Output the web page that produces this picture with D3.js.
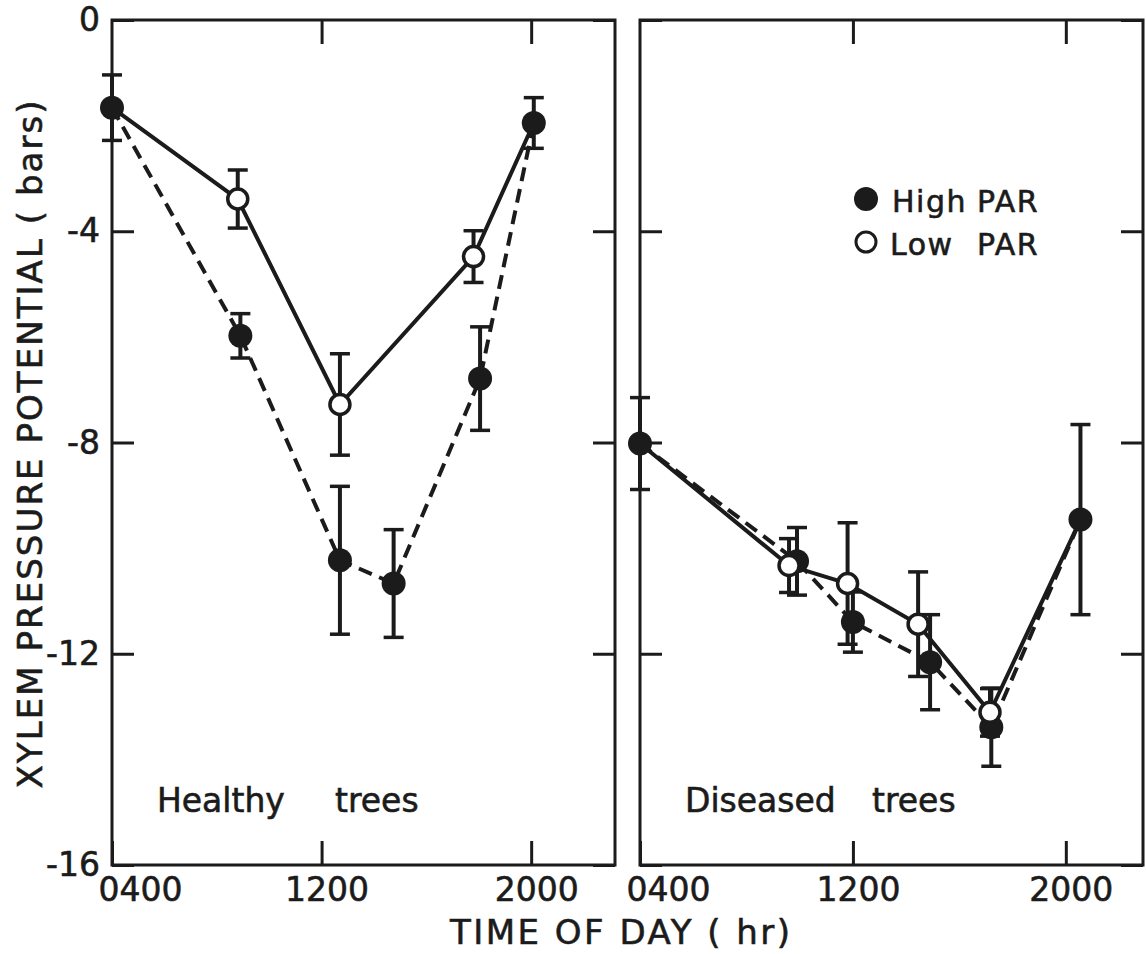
<!DOCTYPE html>
<html>
<head>
<meta charset="utf-8">
<script src="https://cdn.jsdelivr.net/npm/d3@7"></script>
<style>
  body { margin: 0; background: #fff; }
  svg text { font-family: "DejaVu Sans", sans-serif; fill: #1b1b1b; stroke: #1b1b1b; stroke-width: 0.6px; }
</style>
</head>
<body>
<div id="chart"></div>
<script>
// values: xylem pressure potential (bars) by hour of day
var yTicks = [0, -4, -8, -12, -16];
var xTickHours = [4, 12, 20];
var xTickLabels = ["0400", "1200", "2000"];

var healthyHighHour = [4, 8.9, 12.7, 14.75, 18.05, 20.1];
var healthyHighMean = [-1.66, -5.98, -10.23, -10.67, -6.79, -1.95];
var healthyHighSE   = [0.62, 0.42, 1.40, 1.02, 0.98, 0.48];

var healthyLowHour = [4, 8.8, 12.7, 17.8, 20.1];
var healthyLowMean = [-1.66, -3.39, -7.28, -4.48, -1.95];
var healthyLowSE   = [0.62, 0.55, 0.96, 0.49, 0.48];

var diseasedHighHour = [4, 9.9, 12.0, 14.9, 17.2, 20.55];
var diseasedHighMean = [-8.02, -10.25, -11.40, -12.16, -13.39, -9.46];
var diseasedHighSE   = [0.87, 0.64, 0.57, 0.90, 0.74, 1.80];

var diseasedLowHour = [4, 9.6, 11.8, 14.45, 17.15, 20.55];
var diseasedLowMean = [-8.02, -10.33, -10.67, -11.44, -13.11, -9.46];
var diseasedLowSE   = [0.87, 0.51, 1.15, 0.99, 0.45, 1.80];

var legendLabels = [["High", "PAR"], ["Low", "PAR"]];

var ink = "#1b1b1b";
var width = 1146, height = 954;
var plotTop = 20, plotBottom = 865;

function toPoints(hours, means, ses) {
    return hours.map(function(h, i) { return {h: h, v: means[i], se: ses[i]}; });
}

var panels = [
    {label: ["Healthy", "trees"], labelX: [157, 335], x0: 112, x1: 615, hourMax: 23.2, yLabels: true,
     high: toPoints(healthyHighHour, healthyHighMean, healthyHighSE),
     low: toPoints(healthyLowHour, healthyLowMean, healthyLowSE)},
    {label: ["Diseased", "trees"], labelX: [685, 872], x0: 640, x1: 1143, hourMax: 22.9, yLabels: false,
     high: toPoints(diseasedHighHour, diseasedHighMean, diseasedHighSE),
     low: toPoints(diseasedLowHour, diseasedLowMean, diseasedLowSE)}
];

var svg = d3.select("#chart")
    .append("svg")
    .attr("width", width)
    .attr("height", height);

var y = d3.scaleLinear().domain([-16, 0]).range([plotBottom, plotTop]);

function styleAxis(sel) {
    sel.select(".domain").remove();
    sel.selectAll(".tick line").attr("stroke", ink).attr("stroke-width", 3);
    sel.selectAll(".tick text").style("font-size", "33px").attr("fill", ink);
}

panels.forEach(function(p) {
    var x = d3.scaleLinear().domain([4, p.hourMax]).range([p.x0, p.x1]);
    var g = svg.append("g");

    // axes, ticks pointing inward
    g.append("g")
        .attr("transform", "translate(0," + y(-16) + ")")
        .call(d3.axisBottom(x).tickValues(xTickHours)
            .tickFormat(function(d, i) { return xTickLabels[i]; })
            .tickSizeInner(-24).tickSizeOuter(0).tickPadding(13))
        .call(styleAxis)
        .selectAll(".tick text")
        .attr("dx", function(d) { return d === 4 ? 28 : 5; });

    g.append("g")
        .attr("transform", "translate(0," + y(0) + ")")
        .call(d3.axisTop(x).tickValues([12, 20]).tickFormat("")
            .tickSizeInner(-24).tickSizeOuter(0))
        .call(styleAxis);

    g.append("g")
        .attr("transform", "translate(" + p.x0 + ",0)")
        .call(d3.axisLeft(y).tickValues(yTicks)
            .tickFormat(p.yLabels ? function(d) { return String(d); } : "")
            .tickSizeInner(-22).tickSizeOuter(0).tickPadding(12))
        .call(styleAxis);

    g.append("g")
        .attr("transform", "translate(" + p.x1 + ",0)")
        .call(d3.axisRight(y).tickValues(yTicks).tickFormat("")
            .tickSizeInner(-22).tickSizeOuter(0))
        .call(styleAxis);

    // frame
    g.append("rect")
        .attr("x", p.x0).attr("y", y(0))
        .attr("width", p.x1 - p.x0).attr("height", y(-16) - y(0))
        .attr("fill", "none").attr("stroke", ink).attr("stroke-width", 3);

    var line = d3.line()
        .x(function(d) { return x(d.h); })
        .y(function(d) { return y(d.v); });

    g.append("path").datum(p.low)
        .attr("d", line).attr("fill", "none")
        .attr("stroke", ink).attr("stroke-width", 4);

    g.append("path").datum(p.high)
        .attr("d", line).attr("fill", "none")
        .attr("stroke", ink).attr("stroke-width", 4)
        .attr("stroke-dasharray", "14,8");

    // low points that coincide with a high point are drawn once, as filled
    var lowOnly = p.low.filter(function(d) {
        return !p.high.some(function(k) { return k.h === d.h && k.v === d.v; });
    });

    function errorBars(data) {
        var eb = g.append("g").selectAll("g").data(data).enter().append("g")
            .attr("stroke", ink);
        eb.append("line")
            .attr("x1", function(d) { return x(d.h); })
            .attr("x2", function(d) { return x(d.h); })
            .attr("y1", function(d) { return y(d.v + d.se); })
            .attr("y2", function(d) { return y(d.v - d.se); })
            .attr("stroke-width", 4);
        [1, -1].forEach(function(s) {
            eb.append("line")
                .attr("x1", function(d) { return x(d.h) - 10; })
                .attr("x2", function(d) { return x(d.h) + 10; })
                .attr("y1", function(d) { return y(d.v + s * d.se); })
                .attr("y2", function(d) { return y(d.v + s * d.se); })
                .attr("stroke-width", 3.5);
        });
    }
    errorBars(p.high);
    errorBars(lowOnly);

    g.append("g").selectAll("circle").data(p.high).enter().append("circle")
        .attr("cx", function(d) { return x(d.h); })
        .attr("cy", function(d) { return y(d.v); })
        .attr("r", 12).attr("fill", ink);

    g.append("g").selectAll("circle").data(lowOnly).enter().append("circle")
        .attr("cx", function(d) { return x(d.h); })
        .attr("cy", function(d) { return y(d.v); })
        .attr("r", 10).attr("fill", "#fff")
        .attr("stroke", ink).attr("stroke-width", 3.5);

    // panel label
    var t = g.append("text").attr("y", 812).style("font-size", "33px");
    p.label.forEach(function(w, i) {
        t.append("tspan").attr("x", p.labelX[i]).text(w);
    });
});

// legend
var legend = svg.append("g");
[{cy: 199, filled: true, x: [892, 977], base: 212},
 {cy: 242, filled: false, x: [890, 977], base: 255}].forEach(function(l, i) {
    legend.append("circle")
        .attr("cx", 866).attr("cy", l.cy)
        .attr("r", l.filled ? 12 : 10)
        .attr("fill", l.filled ? ink : "#fff")
        .attr("stroke", l.filled ? "none" : ink)
        .attr("stroke-width", 3);
    var t = legend.append("text").attr("y", l.base).style("font-size", "30px")
        .attr("letter-spacing", 1.5);
    legendLabels[i].forEach(function(w, j) {
        t.append("tspan").attr("x", l.x[j]).text(w);
    });
});

// axis titles
svg.append("text")
    .attr("transform", "translate(42," + ((plotTop + plotBottom) / 2 + 2) + ") rotate(-90)")
    .attr("text-anchor", "middle")
    .attr("textLength", 688).attr("lengthAdjust", "spacing")
    .style("font-size", "34px")
    .text("XYLEM PRESSURE POTENTIAL ( bars)");

svg.append("text")
    .attr("x", 620).attr("y", 944)
    .attr("text-anchor", "middle")
    .attr("textLength", 340).attr("lengthAdjust", "spacing")
    .style("font-size", "34px")
    .text("TIME OF DAY ( hr)");
</script>
</body>
</html>
